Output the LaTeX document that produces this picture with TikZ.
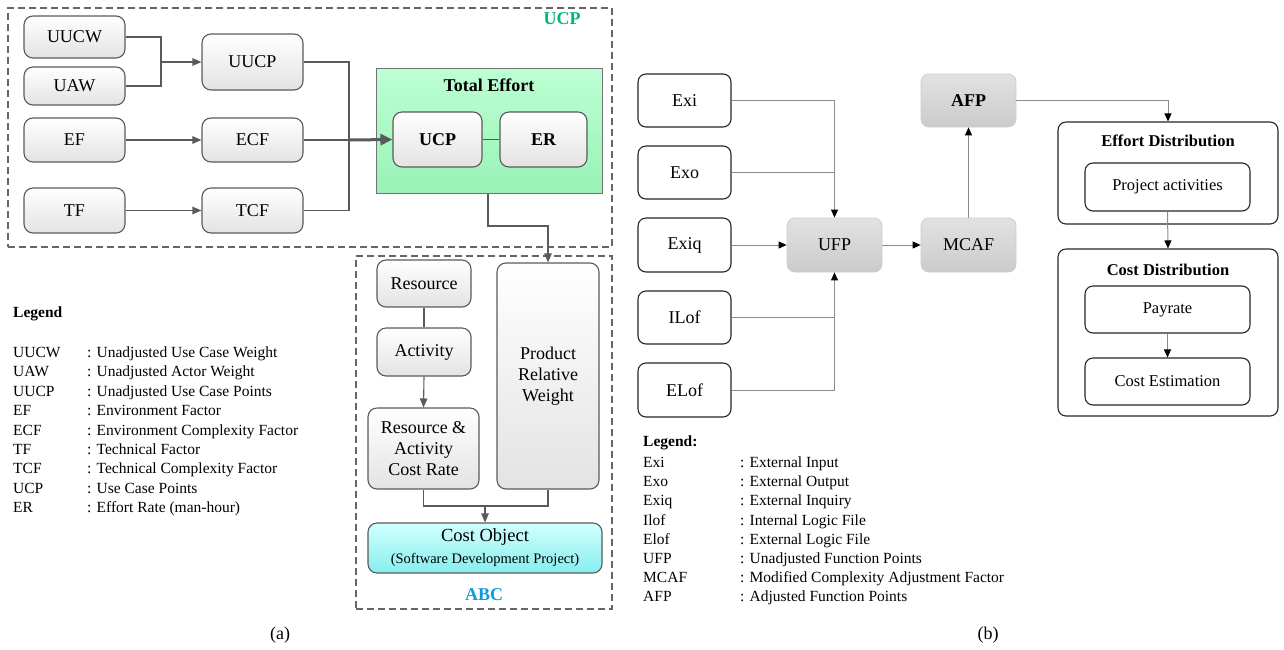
\documentclass[tikz,border=0pt]{standalone}
\usepackage{fontspec}
\setmainfont{Liberation Serif}
\usetikzlibrary{arrows.meta,calc}
\definecolor{edgeA}{HTML}{5A5A5A}
\definecolor{ucpgreen}{HTML}{00B870}
\definecolor{abcblue}{HTML}{0A9BE0}
\definecolor{teTop}{HTML}{BDFFD3}
\definecolor{teBot}{HTML}{98F2B6}
\definecolor{coTop}{HTML}{D2FFFF}
\definecolor{coBot}{HTML}{86EEEE}
\definecolor{gTop}{HTML}{E2E2E2}
\definecolor{gBot}{HTML}{CBCBCB}
\definecolor{bline}{HTML}{8C8C8C}
\begin{document}
\begin{tikzpicture}[x=1pt,y=-1pt,
  abox/.style={draw=edgeA, line width=1.1pt, rounded corners=9pt, top color=white, bottom color=black!11,
    inner sep=0pt, align=center, font=\fontsize{18}{21}\selectfont},
  tebox/.style={draw=black!55, line width=1pt, top color=teTop, bottom color=teBot, inner sep=0pt},
  cobox/.style={draw=edgeA, line width=1.1pt, rounded corners=9pt, top color=coTop, bottom color=coBot, inner sep=0pt, align=center},
  frame/.style={draw=black!60, line width=1.1pt, dash pattern=on 7pt off 4pt},
  conn/.style={draw=edgeA, line width=1.1pt},
  arr/.style={conn, -{Triangle[length=9pt,width=7.5pt]}},
  thickarr/.style={draw=edgeA, line width=3pt, -{Triangle[length=12pt,width=11pt]}},
  wbox/.style={draw=black!85, line width=1.1pt, rounded corners=8pt, fill=white, inner sep=0pt, align=center,
    font=\fontsize{18}{21}\selectfont},
  gbox/.style={draw=black!20, line width=0.8pt, rounded corners=8pt, top color=gTop, bottom color=gBot, inner sep=0pt,
    font=\fontsize{18}{21}\selectfont},
  bconn/.style={draw=bline, line width=1pt},
  barr/.style={bconn, -{Triangle[length=8pt,width=7pt,color=black]}},
  rbox/.style={wbox, font=\fontsize{16.5}{20}\selectfont},
  leg/.style={anchor=base west, inner sep=0pt, font=\fontsize{15.5}{18}\selectfont},
  captxt/.style={inner sep=0pt, font=\fontsize{18}{21}\selectfont}
]
\useasboundingbox (0,0) rectangle (1284,649);

% ---------------- (a) UCP part ----------------
\node[frame, minimum width=604pt, minimum height=239pt, inner sep=0pt] (ucpframe) at (310,127.5) {};
\node[text=ucpgreen, font=\bfseries\fontsize{18}{21}\selectfont, inner sep=0pt] (ucplabel) at (562,19) {UCP};

\node[abox, minimum width=101pt, minimum height=42pt] (uucw) at (74.5,37) {UUCW};
\node[abox, minimum width=101pt, minimum height=38pt] (uaw) at (74.5,86) {UAW};
\node[abox, minimum width=101pt, minimum height=56pt] (uucp) at (252.5,62) {UUCP};
\node[abox, minimum width=101pt, minimum height=44pt] (ef) at (74.5,140) {EF};
\node[abox, minimum width=101pt, minimum height=44pt] (ecf) at (252.5,140) {ECF};
\node[abox, minimum width=101pt, minimum height=45pt] (tf) at (74.5,210.5) {TF};
\node[abox, minimum width=101pt, minimum height=45pt] (tcf) at (252.5,210.5) {TCF};

\node[tebox, minimum width=226pt, minimum height=125pt] (te) at (489,130.5) {};
\node[inner sep=0pt, font=\bfseries\fontsize{18}{21}\selectfont] (tetitle) at (489,85) {Total Effort};
\node[abox, minimum width=89pt, minimum height=55pt, font=\bfseries\fontsize{18}{21}\selectfont] (ucpin) at (437.5,139.5) {UCP};
\node[abox, minimum width=87pt, minimum height=55pt, font=\bfseries\fontsize{18}{21}\selectfont] (erin) at (543.5,139.5) {ER};

\coordinate (j1) at (161,62);
\coordinate (trunk) at (349,140);
\draw[conn] (uucw.east) -| (j1) |- (uaw.east);
\draw[arr] (j1) -- (uucp.west);
\draw[arr] (ef.east) -- (ecf.west);
\draw[arr] (tf.east) -- (tcf.west);
\draw[conn] (uucp.east) -| (trunk) |- (tcf.east);
\draw[conn] (ecf.east) -- (trunk);
\draw[thickarr] (trunk) -- (ucpin.west);
\draw[conn] (ucpin.east) -- (erin.west);

% ---------------- (a) ABC part ----------------
\node[frame, minimum width=256pt, minimum height=353pt, inner sep=0pt] (abcframe) at (484,432.5) {};
\node[text=abcblue, font=\bfseries\fontsize{18}{21}\selectfont, inner sep=0pt] (abclabel) at (484,595) {ABC};

\node[abox, minimum width=94pt, minimum height=47pt] (resource) at (424,283.5) {Resource};
\node[abox, minimum width=94pt, minimum height=48pt] (activity) at (424,352) {Activity};
\node[abox, minimum width=111pt, minimum height=81pt] (racr) at (423.5,448.5) {Resource \&\\Activity\\Cost Rate};
\node[abox, minimum width=102pt, minimum height=226pt] (prw) at (548,376) {Product\\Relative\\Weight};
\node[cobox, minimum width=234pt, minimum height=50pt] (costobj) at (485,548) {};
\node[inner sep=0pt, font=\fontsize{18.5}{21}\selectfont] (cotext) at (485,537) {Cost Object};
\node[inner sep=0pt, font=\fontsize{14.5}{17}\selectfont] (cosub) at (485,560) {(Software Development Project)};

\coordinate (tedown) at (488,226);
\draw[arr] (te.south -| tedown) -- (tedown) -| (prw.north);
\draw[conn] (resource.south) -- (activity.north);
\draw[arr] (activity.south) -- (racr.north);
\coordinate (jb) at (485,506);
\draw[conn] (racr.south) |- (jb) -| (prw.south);
\draw[arr] (jb) -- (costobj.north);

% ---------------- (a) legend ----------------
\node[leg, font=\bfseries\fontsize{15.5}{18}\selectfont] (lega) at (13,317.5) {Legend};
\foreach \ab/\de [count=\i] in {UUCW/Unadjusted Use Case Weight, UAW/Unadjusted Actor Weight,
  UUCP/Unadjusted Use Case Points, EF/Environment Factor, ECF/Environment Complexity Factor,
  TF/Technical Factor, TCF/Technical Complexity Factor, UCP/Use Case Points, ER/Effort Rate (man-hour)}{
  \node[leg] (laab\i) at (13,{357.5+(\i-1)*19.4}) {\ab};
  \node[leg] (lade\i) at (87,{357.5+(\i-1)*19.4}) {: \de};
}
\node[captxt] (capa) at (280,635) {(a)};

% ---------------- (b) ----------------
\node[wbox, minimum width=93pt, minimum height=53pt] (exi) at (684.5,100.5) {Exi};
\node[wbox, minimum width=93pt, minimum height=53pt] (exo) at (684.5,172.5) {Exo};
\node[wbox, minimum width=93pt, minimum height=54pt] (exiq) at (684.5,245) {Exiq};
\node[wbox, minimum width=93pt, minimum height=53pt] (ilof) at (684.5,317.5) {ILof};
\node[wbox, minimum width=93pt, minimum height=54pt] (elof) at (684.5,390) {ELof};
\node[gbox, minimum width=95pt, minimum height=54pt] (ufp) at (834.5,245) {UFP};
\node[gbox, minimum width=95pt, minimum height=54pt] (mcaf) at (968.5,245) {MCAF};
\node[gbox, minimum width=95pt, minimum height=53pt, font=\bfseries\fontsize{18}{21}\selectfont] (afp) at (968.5,100.5) {AFP};

\node[rbox, minimum width=220pt, minimum height=102pt] (effd) at (1168,173) {};
\node[inner sep=0pt, font=\bfseries\fontsize{16.5}{20}\selectfont] (effdt) at (1168,141) {Effort Distribution};
\node[rbox, minimum width=165pt, minimum height=48pt] (projact) at (1167.5,187) {Project activities};
\node[rbox, minimum width=220pt, minimum height=167pt] (costd) at (1168,332.5) {};
\node[inner sep=0pt, font=\bfseries\fontsize{16.5}{20}\selectfont] (costdt) at (1168,270) {Cost Distribution};
\node[rbox, minimum width=165pt, minimum height=47pt] (payrate) at (1167.5,309.5) {Payrate};
\node[rbox, minimum width=165pt, minimum height=47pt] (costest) at (1167.5,381.5) {Cost Estimation};

\draw[barr] (exi.east) -| (ufp.north);
\draw[bconn] (exo.east) -- (exo.east -| ufp.north);
\draw[barr] (exiq.east) -- (ufp.west);
\draw[bconn] (ilof.east) -- (ilof.east -| ufp.south);
\draw[barr] (elof.east) -| (ufp.south);
\draw[barr] (ufp.east) -- (mcaf.west);
\draw[barr] (mcaf.north) -- (afp.south);
\draw[barr] (afp.east) -| (effd.north);
\draw[barr] (projact.south) -- (costd.north);
\draw[barr] (payrate.south) -- (costest.north);

% ---------------- (b) legend ----------------
\node[leg, font=\bfseries\fontsize{15.5}{18}\selectfont] (legb) at (643,446) {Legend:};
\foreach \ab/\de [count=\i] in {Exi/External Input, Exo/External Output, Exiq/External Inquiry,
  Ilof/Internal Logic File, Elof/External Logic File, UFP/Unadjusted Function Points,
  MCAF/Modified Complexity Adjustment Factor, AFP/Adjusted Function Points}{
  \node[leg] (lbab\i) at (643,{467.5+(\i-1)*19.2}) {\ab};
  \node[leg] (lbde\i) at (740,{467.5+(\i-1)*19.2}) {: \de};
}
\node[captxt] (capb) at (988,635) {(b)};
\end{tikzpicture}
\end{document}
